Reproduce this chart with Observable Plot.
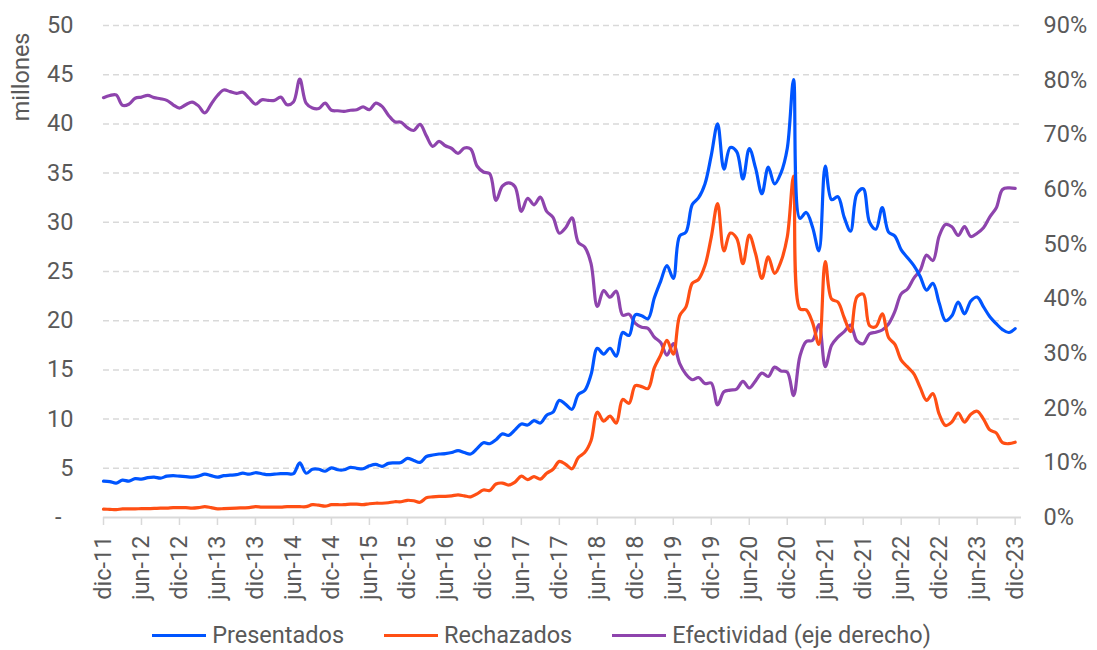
<!DOCTYPE html>
<html>
<head>
<meta charset="utf-8">
<script src="https://cdn.jsdelivr.net/npm/d3@7"></script>
<script src="https://cdn.jsdelivr.net/npm/@observablehq/plot@0.6"></script>
<style>
  html, body { margin: 0; padding: 0; background: #fff; }
  #chart { width: 1097px; }
  .legend { display: flex; justify-content: center; align-items: center; gap: 40px;
    font-family: Roboto, sans-serif; font-size: 23.5px; color: #595959; padding-top: 9px; padding-right: 14px; }
  .legend .item { display: flex; align-items: center; gap: 6px; }
  .legend .sw { display: inline-block; width: 54px; height: 3px; }
</style>
</head>
<body>
<div id="chart"></div>
<script>
// Tick labels (every 6 months, from dic-11 to dic-23)
const tickLabels = ["dic-11","jun-12","dic-12","jun-13","dic-13","jun-14","dic-14","jun-15","dic-15",
  "jun-16","dic-16","jun-17","dic-17","jun-18","dic-18","jun-19","dic-19","jun-20","dic-20",
  "jun-21","dic-21","jun-22","dic-22","jun-23","dic-23"];

// Presentados (millones), monthly dic-11 .. dic-23
const presentados = [
  3.7,3.65,3.5,3.8,3.7,3.95,3.9,4.05,4.1,4.0,4.2,4.25,
  4.2,4.15,4.1,4.2,4.4,4.25,4.1,4.25,4.3,4.35,4.5,4.4,
  4.55,4.45,4.35,4.4,4.45,4.45,4.45,5.55,4.5,4.9,4.9,4.7,
  5.05,4.85,4.85,5.1,5.0,4.95,5.25,5.4,5.2,5.5,5.55,5.6,
  6.0,5.8,5.6,6.2,6.35,6.45,6.5,6.6,6.8,6.6,6.45,7.0,
  7.6,7.5,7.9,8.5,8.35,8.9,9.5,9.4,9.85,9.6,10.4,10.7,
  11.9,11.5,11.0,12.5,12.9,14.5,17.2,16.6,17.2,16.4,18.8,18.5,
  20.6,20.5,20.2,22.3,24.0,25.6,24.3,28.6,29.0,31.8,32.5,33.9,
  36.8,40.0,35.4,37.6,37.2,34.4,37.5,35.5,32.9,35.6,33.9,35.0,
  37.5,44.5,30.4,31.0,29.5,27.1,35.7,32.3,32.6,30.5,29.1,32.9,
  33.4,30.0,29.3,31.5,29.0,28.6,27.2,26.4,25.6,24.5,23.1,23.8,
  21.8,20.0,20.5,21.9,20.7,22.0,22.4,21.4,20.4,19.7,19.1,18.8,
  19.2
];

// Rechazados (millones)
const rechazados = [
  0.85,0.83,0.8,0.88,0.88,0.88,0.9,0.9,0.92,0.95,0.95,1.0,
  1.0,1.0,0.95,1.0,1.1,1.0,0.88,0.9,0.92,0.95,0.98,1.0,
  1.1,1.05,1.05,1.05,1.05,1.1,1.1,1.1,1.1,1.3,1.25,1.15,
  1.3,1.3,1.3,1.35,1.35,1.3,1.4,1.45,1.45,1.5,1.6,1.6,
  1.75,1.7,1.55,2.0,2.1,2.15,2.15,2.2,2.3,2.2,2.1,2.4,
  2.8,2.75,3.4,3.5,3.3,3.6,4.2,3.85,4.15,3.9,4.5,4.9,
  5.7,5.4,4.95,6.1,6.6,7.8,10.7,9.8,10.3,9.6,12.0,11.6,
  13.4,13.3,13.1,15.2,16.5,18.0,16.6,20.5,21.4,23.8,24.2,25.6,
  28.5,31.9,27.1,28.9,28.4,25.8,28.7,26.8,24.3,26.5,24.8,26.0,
  28.5,34.7,21.2,21.1,19.8,17.6,26.0,22.2,21.9,20.3,18.9,22.4,
  22.7,19.5,19.4,20.7,18.3,17.6,16.0,15.3,14.6,13.2,11.9,12.6,
  10.5,9.35,9.7,10.6,9.7,10.5,10.8,10.0,8.9,8.6,7.6,7.5,
  7.65
];

// Efectividad (%, eje derecho)
const efectividad = [
  76.8,77.2,77.3,75.4,75.6,76.7,76.9,77.2,76.8,76.6,76.3,75.5,
  74.9,75.5,76.0,75.3,74.0,75.6,77.2,78.2,77.9,77.6,77.8,76.7,
  75.6,76.4,76.3,76.3,76.9,75.5,76.0,80.2,75.8,74.9,74.8,75.8,
  74.5,74.4,74.3,74.5,74.6,75.1,74.6,75.8,75.2,73.6,72.4,72.3,
  71.3,70.8,71.9,69.8,67.9,68.8,68.0,67.5,66.6,67.6,67.4,64.3,
  63.2,62.9,58.0,60.6,61.2,60.5,56.0,58.4,57.2,58.6,56.0,54.9,
  52.0,53.0,54.8,50.3,49.5,46.5,38.6,41.5,40.3,41.4,37.0,37.2,
  35.5,34.8,34.6,33.0,32.0,29.7,31.8,28.2,26.2,25.2,25.6,24.5,
  24.6,20.6,23.0,23.3,23.5,24.9,23.7,25.0,26.4,25.8,27.5,26.8,
  26.6,22.3,29.5,32.2,32.4,35.3,27.6,31.5,33.0,34.0,35.2,32.3,
  31.8,33.6,33.9,34.3,35.4,37.7,40.9,41.8,43.8,45.2,48.0,47.0,
  51.5,53.6,53.2,51.6,53.2,51.4,52.0,53.0,55.0,56.6,60.0,60.3,
  60.2
];

const leftTicks = [0,5,10,15,20,25,30,35,40,45,50];
const rightTicks = [0,10,20,30,40,50,60,70,80,90];
const seriesNames = ["Presentados","Rechazados","Efectividad (eje derecho)"];
const colors = ["#0055ff","#ff4f14","#8e44ad"];

const LEFT_MAX = 50, RIGHT_MAX = 90;
const toLeft = p => p * LEFT_MAX / RIGHT_MAX;
const FS = 23.5;

const rows = presentados.map((v, i) => ({i, pres: v, rech: rechazados[i], efec: efectividad[i]}));
const tickIdx = tickLabels.map((_, k) => k * 6);

const chart = Plot.plot({
  width: 1097,
  height: 612,
  marginLeft: 103,
  marginRight: 76,
  marginTop: 25,
  marginBottom: 95,
  style: {fontFamily: "Roboto, sans-serif", fontSize: FS + "px", color: "#595959", background: "#fff", overflow: "visible"},
  x: {type: "linear", domain: [0, rows.length]},
  y: {domain: [0, LEFT_MAX]},
  marks: [
    Plot.ruleY(leftTicks.filter(d => d > 0), {stroke: "#d9d9d9", strokeWidth: 1.5, strokeDasharray: "6,4"}),
    Plot.ruleY([0], {stroke: "#d9d9d9", strokeWidth: 2}),
    Plot.axisX({ticks: tickIdx, tickFormat: d => tickLabels[Math.round(d / 6)], tickRotate: -90,
      tickSize: 8, tickPadding: 10, stroke: "#d9d9d9", strokeWidth: 1.5, label: null, fontSize: FS}),
    Plot.axisY({ticks: leftTicks, tickFormat: d => d === 0 ? "-\u2002" : String(d), tickSize: 0,
      tickPadding: 30, label: null, fontSize: FS}),
    Plot.axisY({anchor: "right", ticks: rightTicks.map(toLeft), tickFormat: d => Math.round(d * RIGHT_MAX / LEFT_MAX) + "%",
      tickSize: 0, tickPadding: 22, label: null, fontSize: FS}),
    Plot.text(["millones"], {frameAnchor: "top-left", text: d => d, rotate: -90, textAnchor: "end",
      dx: -91, dy: 7, fontSize: FS, fill: "#595959"}),
    Plot.line(rows, {x: "i", y: d => toLeft(d.efec), stroke: colors[2], strokeWidth: 3.2, curve: "catmull-rom"}),
    Plot.line(rows, {x: "i", y: "rech", stroke: colors[1], strokeWidth: 3.2, curve: "catmull-rom"}),
    Plot.line(rows, {x: "i", y: "pres", stroke: colors[0], strokeWidth: 3.2, curve: "catmull-rom"})
  ]
});

const host = document.getElementById("chart");
host.appendChild(chart);
const legend = document.createElement("div");
legend.className = "legend";
seriesNames.forEach((name, k) => {
  const item = document.createElement("div");
  item.className = "item";
  const sw = document.createElement("span");
  sw.className = "sw";
  sw.style.background = colors[k];
  const lab = document.createElement("span");
  lab.textContent = name;
  item.appendChild(sw);
  item.appendChild(lab);
  legend.appendChild(item);
});
host.appendChild(legend);
</script>
</body>
</html>
